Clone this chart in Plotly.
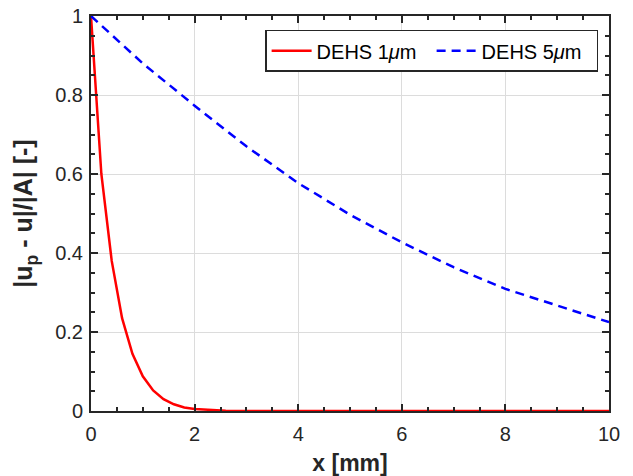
import plotly.graph_objects as go

# Data
x_1um = [0, 0.2, 0.4, 0.6, 0.8, 1.0, 1.2, 1.4, 1.6, 1.8, 2.0, 2.2, 2.4, 2.6, 3.0, 4, 5, 6, 7, 8, 9, 10]
y_1um = [1.0, 0.60, 0.38, 0.235, 0.145, 0.088, 0.052, 0.030, 0.017, 0.009, 0.005, 0.003, 0.0015,
         0.0008, 0.0002, 0, 0, 0, 0, 0, 0, 0]
x_5um = [0, 1, 2, 3, 4, 5, 6, 7, 8, 9, 10]
y_5um = [1.0, 0.88, 0.773, 0.67, 0.577, 0.497, 0.427, 0.364, 0.309, 0.266, 0.225]
names = ["DEHS 1<i>μ</i>m", "DEHS 5<i>μ</i>m"]
x_ticks = [0, 2, 4, 6, 8, 10]
y_ticks = [0, 0.2, 0.4, 0.6, 0.8, 1]
y_ticklabels = ["0", "0.2", "0.4", "0.6", "0.8", "1"]

FONT = "Liberation Sans, Arial"

fig = go.Figure()
fig.add_trace(go.Scatter(x=x_1um, y=y_1um, mode="lines", name=names[0],
                         line=dict(color="#ff0000", width=2.5)))
fig.add_trace(go.Scatter(x=x_5um, y=y_5um, mode="lines", name=names[1],
                         line=dict(color="#0000ff", width=2.5, dash="9px,6px")))

axis_common = dict(
    showline=True, linecolor="#262626", linewidth=2, mirror="ticks",
    ticks="inside", ticklen=7, tickwidth=1.5, tickcolor="#262626",
    showgrid=True, gridcolor="#dcdcdc", gridwidth=1.2, zeroline=False,
    tickfont=dict(family=FONT, size=20, color="#262626"),
    automargin=False,
)

fig.update_xaxes(range=[0, 10], tickvals=x_ticks, ticklabelstandoff=4, **axis_common,
                 minor=dict(dtick=0.5, ticks="inside", ticklen=4, tickcolor="#262626", showgrid=False),
                 title=dict(text="<b>x [mm]</b>", standoff=13,
                            font=dict(family=FONT, size=23, color="#262626")))
fig.update_yaxes(range=[0, 1], tickvals=y_ticks, ticktext=y_ticklabels, ticklabelstandoff=2, **axis_common,
                 minor=dict(dtick=0.05, ticks="inside", ticklen=4, tickcolor="#262626", showgrid=False),
                 title=dict(text="<b>|u<sub>p</sub> - u|/|A| [-]</b>", standoff=15,
                            font=dict(family=FONT, size=25, color="#262626")))

fig.update_layout(
    width=633, height=476,
    margin=dict(l=91, r=24, t=16, b=65, autoexpand=False),
    plot_bgcolor="white", paper_bgcolor="white",
    legend=dict(orientation="h", x=0.979, y=0.965, xanchor="right", yanchor="top",
                bgcolor="white", bordercolor="#262626", borderwidth=1.5,
                font=dict(family=FONT, size=20, color="#000000"),
                itemwidth=40, tracegroupgap=0, entrywidth=110, entrywidthmode="pixels"),
    showlegend=True,
)

fig.write_html("out.html")
